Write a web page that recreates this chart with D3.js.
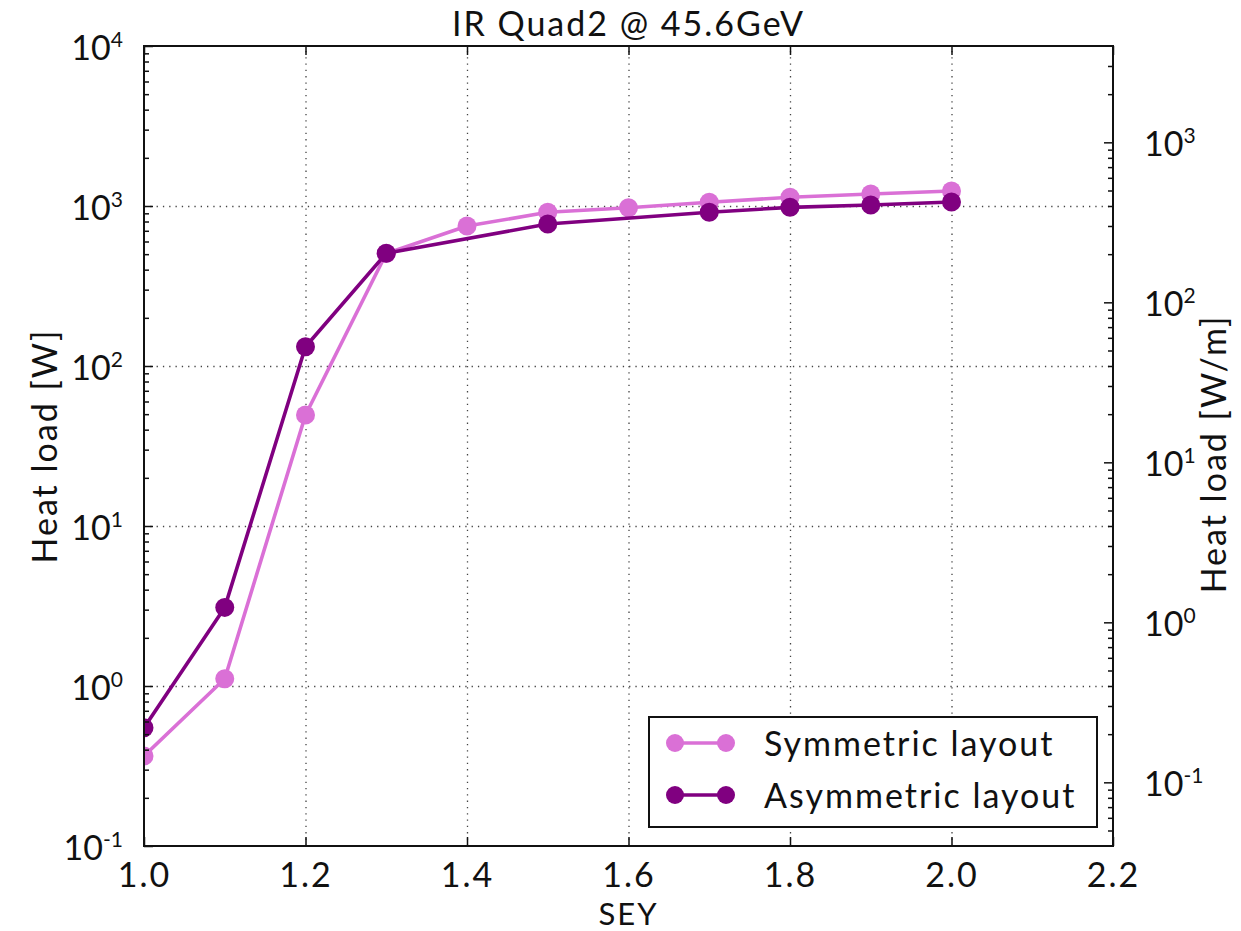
<!DOCTYPE html>
<html>
<head>
<meta charset="utf-8">
<script src="https://cdn.jsdelivr.net/npm/d3@7"></script>
<style>
  html, body { margin: 0; padding: 0; background: #fff; }
  svg { display: block; }
  text { font-family: Lato, "DejaVu Sans", sans-serif; fill: #111; }
  .wide { letter-spacing: 2px; }
</style>
</head>
<body>
<svg id="chart" width="1241" height="931"></svg>
<script>
// Secondary electron yield values for each layout
const seySymmetric = [1.0, 1.1, 1.2, 1.3, 1.4, 1.5, 1.6, 1.7, 1.8, 1.9, 2.0];
const heatSymmetric = [0.365, 1.11, 49.4, 505, 750, 913, 976, 1055, 1133, 1189, 1241];

const seyAsymmetric = [1.0, 1.1, 1.2, 1.3, 1.5, 1.7, 1.8, 1.9, 2.0];
const heatAsymmetric = [0.548, 3.1, 132, 506, 772, 913, 981, 1014, 1059];

const seriesNames = ["Symmetric layout", "Asymmetric layout"];
const seriesColors = ["#da70d6", "#800080"];

const xTicks = [1.0, 1.2, 1.4, 1.6, 1.8, 2.0, 2.2];
const leftDecades = [0.1, 1, 10, 100, 1000, 10000];
const rightDecades = [0.1, 1, 10, 100, 1000];
const magnetLength = 2.5; // m, converts W to W/m

const titleText = "IR Quad2 @ 45.6GeV";
const xLabel = "SEY";
const yLabelLeft = "Heat load [W]";
const yLabelRight = "Heat load [W/m]";

const margin = { left: 144, top: 46, right: 128, bottom: 85 };
const W = 1241, H = 931;
const iw = W - margin.left - margin.right;
const ih = H - margin.top - margin.bottom;

const svg = d3.select("#chart");
const g = svg.append("g").attr("transform", `translate(${margin.left},${margin.top})`);

const x = d3.scaleLinear().domain([1.0, 2.2]).range([0, iw]);
const yL = d3.scaleLog().domain([0.1, 1e4]).range([ih, 0]);
const yR = d3.scaleLog().domain([0.1 / magnetLength, 1e4 / magnetLength]).range([ih, 0]);

function minorsFor(scale) {
  const [lo, hi] = scale.domain();
  const out = [];
  for (let e = Math.floor(Math.log10(lo)); e <= Math.ceil(Math.log10(hi)); e++) {
    for (let m = 2; m <= 9; m++) {
      const v = m * Math.pow(10, e);
      if (v > lo && v < hi) out.push(v);
    }
  }
  return out;
}

function expLabel(sel) {
  sel.each(function (d) {
    const t = d3.select(this);
    const e = Math.round(Math.log10(d));
    t.text("10");
    t.append("tspan").attr("dy", "-0.62em").attr("font-size", "21px").text(String(e));
  });
}

// Grid lines (dotted)
const gridStyle = s => s.selectAll("line").attr("stroke", "#444").attr("stroke-width", 1.3).attr("stroke-dasharray", "1.3,5");
g.append("g").attr("class", "grid")
  .call(d3.axisLeft(yL).tickValues([1, 10, 100, 1000]).tickSize(-iw).tickFormat(""))
  .call(s => s.select(".domain").remove())
  .call(gridStyle);
g.append("g").attr("class", "grid")
  .attr("transform", `translate(0,${ih})`)
  .call(d3.axisBottom(x).tickValues([1.2, 1.4, 1.6, 1.8, 2.0]).tickSize(ih).tickFormat(""))
  .call(s => s.select(".domain").remove())
  .call(s => s.selectAll("line").attr("y2", -ih))
  .call(gridStyle);

// Series
svg.append("clipPath").attr("id", "plotclip")
  .append("rect").attr("width", iw).attr("height", ih);
const plot = g.append("g").attr("clip-path", "url(#plotclip)");

const series = [
  { xs: seySymmetric, ys: heatSymmetric, color: seriesColors[0] },
  { xs: seyAsymmetric, ys: heatAsymmetric, color: seriesColors[1] }
];
const line = d3.line().x(d => x(d[0])).y(d => yL(d[1]));
series.forEach(s => {
  const pts = s.xs.map((v, i) => [v, s.ys[i]]);
  plot.append("path").datum(pts)
    .attr("fill", "none").attr("stroke", s.color).attr("stroke-width", 3.6)
    .attr("stroke-linejoin", "round").attr("d", line);
  plot.selectAll(null).data(pts).enter().append("circle")
    .attr("cx", d => x(d[0])).attr("cy", d => yL(d[1])).attr("r", 9.5)
    .attr("fill", s.color);
});

// Axes
const tickText = s => s.selectAll("text").attr("font-size", "34px").attr("fill", "#111");
const tickLine = s => s.selectAll("line").attr("stroke", "#111").attr("stroke-width", 1.5);

// Left axis
g.append("g")
  .call(d3.axisLeft(yL).tickValues(minorsFor(yL)).tickSize(-5).tickFormat(""))
  .call(s => s.select(".domain").remove()).call(tickLine);
g.append("g")
  .call(d3.axisLeft(yL).tickValues(leftDecades).tickSize(-9).tickPadding(21))
  .call(s => s.select(".domain").remove()).call(tickLine)
  .call(s => s.selectAll("text").attr("dy", "0.4em").call(expLabel))
  .call(tickText);

// Right axis
g.append("g").attr("transform", `translate(${iw},0)`)
  .call(d3.axisRight(yR).tickValues(minorsFor(yR)).tickSize(-5).tickFormat(""))
  .call(s => s.select(".domain").remove()).call(tickLine);
g.append("g").attr("transform", `translate(${iw},0)`)
  .call(d3.axisRight(yR).tickValues(rightDecades).tickSize(-9).tickPadding(31))
  .call(s => s.select(".domain").remove()).call(tickLine)
  .call(s => s.selectAll("text").attr("dy", "0.4em").call(expLabel))
  .call(tickText);

// Bottom axis
g.append("g").attr("transform", `translate(0,${ih})`)
  .call(d3.axisBottom(x).tickValues(xTicks).tickSize(-9).tickPadding(17).tickFormat(d3.format(".1f")))
  .call(s => s.select(".domain").remove()).call(tickLine).call(tickText)
  .call(s => s.selectAll("text").attr("class", "wide"));

// Top axis ticks
g.append("g")
  .call(d3.axisTop(x).tickValues(xTicks).tickSize(-9).tickFormat(""))
  .call(s => s.select(".domain").remove()).call(tickLine);

// Frame
g.append("rect").attr("width", iw).attr("height", ih)
  .attr("fill", "none").attr("stroke", "#111").attr("stroke-width", 2);

// Titles
svg.append("text").attr("class", "wide").attr("x", margin.left + iw / 2).attr("y", 36)
  .attr("text-anchor", "middle").attr("font-size", "34px").text(titleText);
svg.append("text").attr("class", "wide").attr("x", margin.left + iw / 2).attr("y", 925)
  .attr("text-anchor", "middle").attr("font-size", "31px").text(xLabel);
svg.append("text").attr("class", "wide").attr("transform", `translate(57,${margin.top + ih / 2}) rotate(-90)`)
  .attr("text-anchor", "middle").attr("font-size", "34px").text(yLabelLeft);
svg.append("text").attr("class", "wide").attr("transform", `translate(1226,${margin.top + ih / 2 + 8}) rotate(-90)`)
  .attr("text-anchor", "middle").attr("font-size", "34px").text(yLabelRight);

// Legend
const lg = svg.append("g");
lg.append("rect").attr("x", 649).attr("y", 717).attr("width", 448).attr("height", 110)
  .attr("fill", "#fff").attr("stroke", "#111").attr("stroke-width", 2);
const rows = [743, 795];
seriesNames.forEach((name, i) => {
  const yy = rows[i];
  lg.append("line").attr("x1", 675).attr("x2", 726).attr("y1", yy).attr("y2", yy)
    .attr("stroke", seriesColors[i]).attr("stroke-width", 3.6);
  [675, 726].forEach(cx => lg.append("circle").attr("cx", cx).attr("cy", yy).attr("r", 9)
    .attr("fill", seriesColors[i]));
  lg.append("text").attr("class", "wide").attr("x", 764).attr("y", yy + 13).attr("font-size", "34px").text(name);
});
</script>
</body>
</html>
